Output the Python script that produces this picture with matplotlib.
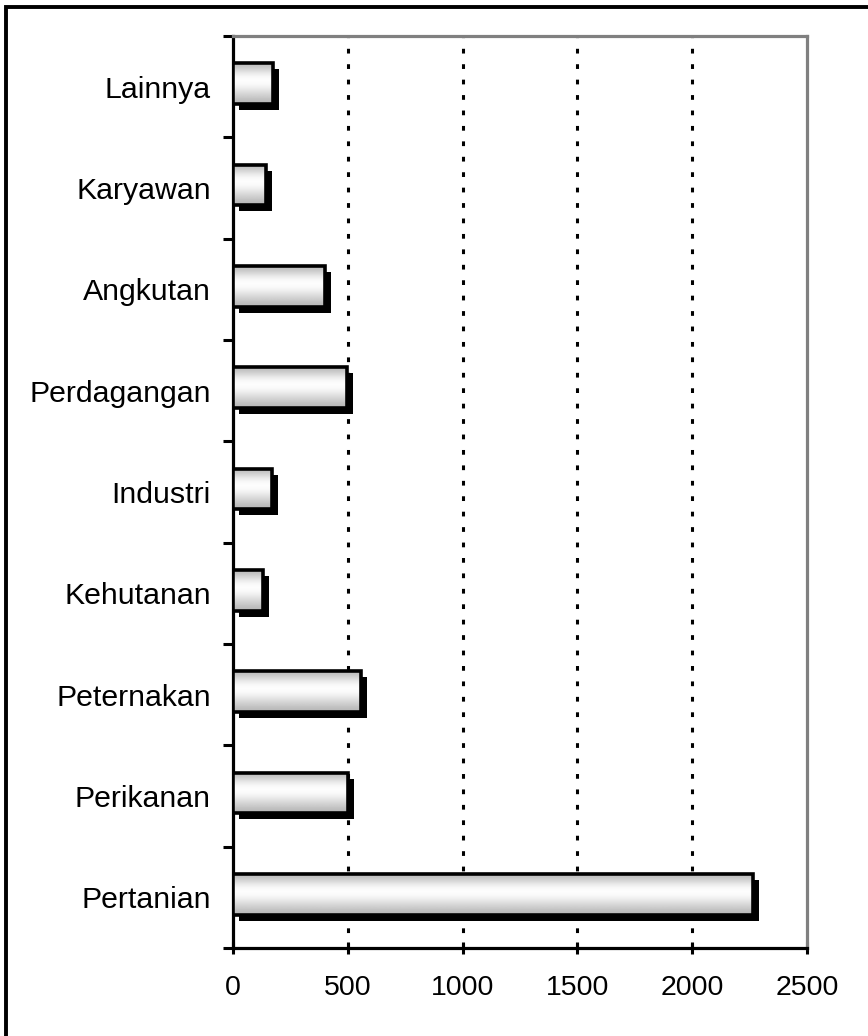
import numpy as np
import matplotlib
matplotlib.use("Agg")
import matplotlib.pyplot as plt
from matplotlib.patches import Rectangle
from matplotlib.transforms import ScaledTranslation

plt.rcParams["font.family"] = ["Liberation Sans", "DejaVu Sans"]

# data (bottom to top)
categories = ["Pertanian", "Perikanan", "Peternakan", "Kehutanan", "Industri",
              "Perdagangan", "Angkutan", "Karyawan", "Lainnya"]
values = [2265, 500, 558, 130, 172, 495, 400, 145, 175]
xticks = [0, 500, 1000, 1500, 2000, 2500]

fig = plt.figure(figsize=(8.68, 10.36), dpi=100)
ax = fig.add_axes([233 / 868, 1 - 948 / 1036, (807 - 233) / 868, (948 - 36) / 1036])

ypos = np.arange(len(categories))
h = 0.4
yc = ypos + 0.03

# shadow bars, shifted right/down by a few pixels
shadow = ax.barh(yc, values, height=h, color="black", zorder=2)
off = ScaledTranslation(0.06, -0.06, fig.dpi_scale_trans)
for p in shadow:
    p.set_transform(ax.transData + off)

# gradient fill
grad = np.array([0.74, 0.86, 0.97, 1.0, 0.96, 0.88, 0.80, 0.72])[:, None]
for y, v in zip(yc, values):
    ax.imshow(grad, cmap="gray", vmin=0, vmax=1, aspect="auto",
              extent=[0, v, y - h / 2, y + h / 2], zorder=3, interpolation="bicubic")

# outlines
ax.barh(yc, values, height=h, facecolor="none", edgecolor="black", linewidth=2.6, zorder=4)

ax.set_xlim(0, 2500)
ax.set_ylim(-0.5, len(categories) - 0.5)

ax.set_xticks(xticks)
ax.set_xticklabels([str(t) for t in xticks], fontsize=20.5)
ax.tick_params(axis="x", direction="inout", length=9, width=2.2, pad=15)

ax.set_yticks(ypos)
ax.set_yticklabels(categories, fontsize=21.8)
ax.tick_params(axis="y", which="major", length=0, pad=16)
ax.set_yticks(np.arange(-0.5, len(categories), 1.0), minor=True)
ax.tick_params(axis="y", which="minor", direction="out", length=7, width=2.2)

ax.set_axisbelow(True)
for x in xticks[1:-1]:
    ax.axvline(x, color="black", lw=2.2, linestyle=(0, (1.55, 3.5)), zorder=1)

for s in ["left", "bottom"]:
    ax.spines[s].set_linewidth(2.3)
    ax.spines[s].set_color("black")
for s in ["top", "right"]:
    ax.spines[s].set_linewidth(2.3)
    ax.spines[s].set_color("#808080")

# outer frame (cut off at right and bottom)
fig.patches.append(Rectangle((6 / 868, -0.05), 1.1, 1.05 - 7 / 1036, transform=fig.transFigure,
                             fill=False, edgecolor="black", linewidth=2.8))

fig.savefig("out.png", dpi=100)
